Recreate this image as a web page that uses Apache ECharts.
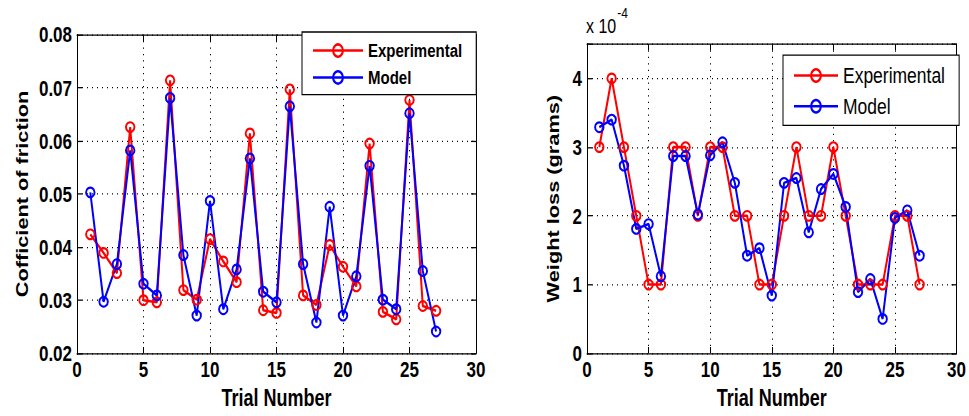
<!DOCTYPE html>
<html>
<head>
<meta charset="utf-8">
<script src="https://cdn.jsdelivr.net/npm/echarts@6/dist/echarts.min.js"></script>
<style>
  html, body { margin: 0; padding: 0; background: #fff; overflow: hidden; }
  #wrap { width: 969px; height: 416px; overflow: hidden; }
  /* the figure is laid out on a shorter canvas and stretched vertically */
  #chart { width: 969px; height: 325px; transform: scaleY(1.28); transform-origin: 0 0; }
</style>
</head>
<body>
<div id="wrap"><div id="chart"></div></div>
<script>
// Trial numbers shared by both panels
const trials = [1,2,3,4,5,6,7,8,9,10,11,12,13,14,15,16,17,18,19,20,21,22,23,24,25,26,27];

// Coefficient of friction
const cofExperimental = [0.0424,0.0389,0.0351,0.0626,0.0300,0.0296,0.0714,0.0319,0.0301,0.0415,0.0373,0.0334,0.0614,0.0281,0.0276,0.0697,0.0309,0.0291,0.0404,0.0363,0.0326,0.0595,0.0278,0.0264,0.0677,0.0289,0.0280];
const cofModel        = [0.0503,0.0297,0.0368,0.0582,0.0331,0.0309,0.0681,0.0385,0.0271,0.0487,0.0283,0.0358,0.0567,0.0316,0.0296,0.0665,0.0368,0.0258,0.0476,0.0271,0.0345,0.0553,0.0301,0.0283,0.0652,0.0355,0.0241];

// Weight loss, in units of 1e-4 grams
const wlExperimental = [3,4,3,2,1,1,3,3,2,3,3,2,2,1,1,2,3,2,2,3,2,1,1,1,2,2,1];
const wlModel        = [3.29,3.40,2.73,1.81,1.88,1.12,2.87,2.87,2.02,2.88,3.07,2.48,1.42,1.53,0.84,2.48,2.55,1.76,2.39,2.61,2.13,0.89,1.08,0.50,1.97,2.08,1.42];

// Axis ticks
const xTicks = [0,5,10,15,20,25,30];
const cofTicks = [0.02,0.03,0.04,0.05,0.06,0.07,0.08];
const wlTicks = [0,1,2,3,4];

const seriesNames = ['Experimental', 'Model'];
const colors = ['#ff0000', '#0000ff'];

const FONT = 'Liberation Sans, Arial, sans-serif';
const chart = echarts.init(document.getElementById('chart'), null, { renderer: 'svg' });

const pairs = (ys) => trials.map((t, i) => [t, ys[i]]);

function xAxes(gridIndex) {
  const base = {
    type: 'value', gridIndex, min: xTicks[0], max: xTicks[xTicks.length - 1], interval: 5,
    axisLine: { show: true, onZero: false, lineStyle: { color: '#000', width: 1 } },
    axisTick: { show: true, inside: true, length: 5, lineStyle: { color: '#000' } }
  };
  return [
    Object.assign({}, base, {
      position: 'bottom',
      name: 'Trial Number', nameLocation: 'middle', nameGap: 26,
      nameTextStyle: { fontFamily: FONT, fontSize: 18, fontWeight: 'bold', color: '#000' },
      axisLabel: { fontFamily: FONT, fontSize: 17, fontWeight: 'bold', color: '#000', margin: 4 },
      splitLine: { show: true, lineStyle: { color: '#000', width: 1, type: [1, 4] } }
    }),
    Object.assign({}, base, {
      position: 'top', axisLabel: { show: false }, splitLine: { show: false }
    })
  ];
}

function yAxes(gridIndex, ticks, interval, max, name, nameGap, fmt) {
  const base = {
    type: 'value', gridIndex, min: ticks[0], max, interval,
    axisLine: { show: true, onZero: false, lineStyle: { color: '#000', width: 1 } },
    axisTick: { show: true, inside: true, length: 5, lineStyle: { color: '#000' } }
  };
  return [
    Object.assign({}, base, {
      position: 'left',
      name, nameLocation: 'middle', nameGap,
      nameTextStyle: { fontFamily: FONT, fontSize: 17, fontWeight: 'bold', color: '#000' },
      axisLabel: { fontFamily: FONT, fontSize: 17, fontWeight: 'bold', color: '#000', margin: 5, formatter: fmt },
      splitLine: { show: true, lineStyle: { color: '#000', width: 1, type: [1, 4] } }
    }),
    Object.assign({}, base, {
      position: 'right', axisLabel: { show: false }, splitLine: { show: false }
    })
  ];
}

function lineSeries(name, color, data, xi, yi) {
  return {
    name, type: 'line', data, xAxisIndex: xi, yAxisIndex: yi,
    symbol: 'circle', symbolSize: [8.5, 7.5],
    lineStyle: { color, width: 2 },
    itemStyle: { color: 'rgba(255,255,255,0)', borderColor: color, borderWidth: 1.8 },
    emphasis: { disabled: true },
    animation: false
  };
}

function legend(left, top, fontSize, weight, itemWidth, itemGap) {
  return {
    left, top, orient: 'vertical', data: seriesNames,
    backgroundColor: '#fff', borderColor: '#000', borderWidth: 1,
    padding: [7, 14, 6, 10], itemWidth, itemHeight: 12, itemGap,
    textStyle: { fontFamily: FONT, fontSize, fontWeight: weight, color: '#000' },
    selectedMode: false
  };
}

chart.setOption({
  backgroundColor: '#fff',
  animation: false,
  grid: [
    { left: 77, top: 27.1, width: 399, height: 251.6 },
    { left: 587, top: 34.4, width: 372, height: 244.7 }
  ],
  xAxis: [...xAxes(0), ...xAxes(1)],
  yAxis: [
    ...yAxes(0, cofTicks, 0.01, cofTicks[cofTicks.length - 1], 'Cofficient of friction', 47, v => v.toFixed(2)),
    ...yAxes(1, wlTicks, 1, 4.5, 'Weight loss (grams)', 26, v => (Math.abs(v - Math.round(v)) < 1e-9 ? String(Math.round(v)) : ''))
  ],
  legend: [
    legend(302, 25, 15, 'bold', 50, 6),
    legend(783, 43, 17.5, 'normal', 44, 6)
  ],
  graphic: [{
    type: 'text', left: 586, top: 4,
    style: {
      text: '{b|x 10}{s|-4}',
      rich: {
        b: { fontFamily: FONT, fontSize: 16, fill: '#000', verticalAlign: 'bottom', padding: [8, 0, 0, 0] },
        s: { fontFamily: FONT, fontSize: 12, fill: '#000', verticalAlign: 'top', padding: [0, 0, 8, 1] }
      }
    }
  }],
  series: [
    lineSeries(seriesNames[0], colors[0], pairs(cofExperimental), 0, 0),
    lineSeries(seriesNames[1], colors[1], pairs(cofModel), 0, 0),
    lineSeries(seriesNames[0], colors[0], pairs(wlExperimental), 2, 2),
    lineSeries(seriesNames[1], colors[1], pairs(wlModel), 2, 2)
  ]
});
</script>
</body>
</html>
